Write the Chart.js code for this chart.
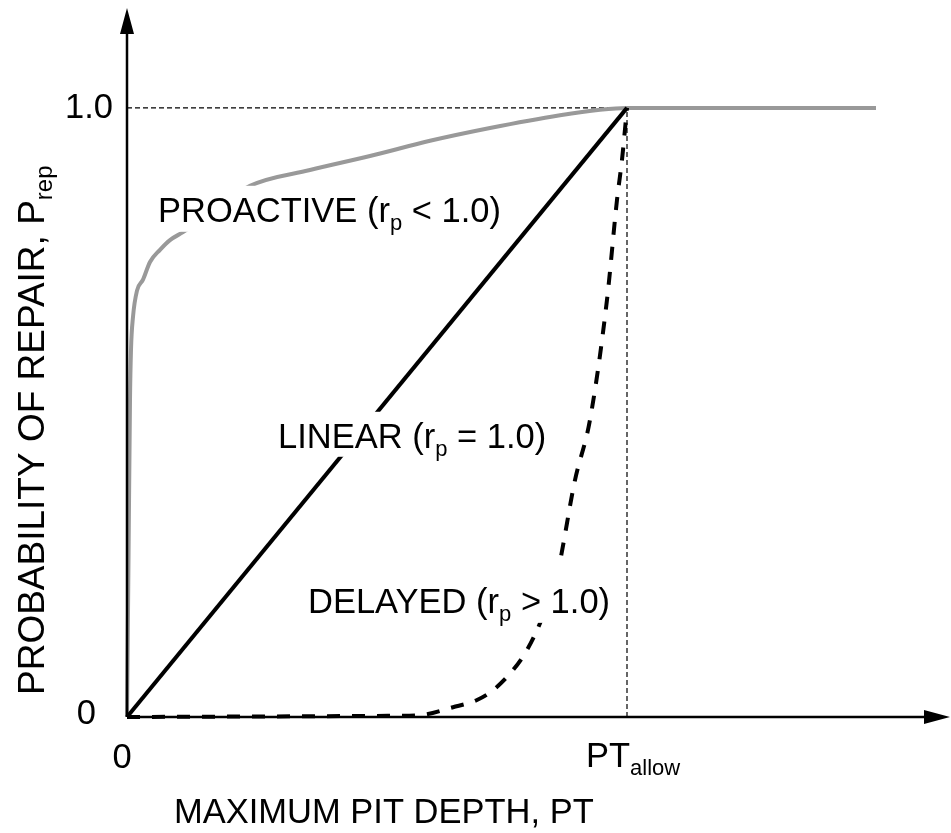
<!DOCTYPE html>
<html>
<head>
<meta charset="utf-8">
<script src="https://cdn.jsdelivr.net/npm/chart.js@4/dist/chart.umd.min.js"></script>
<style>
  html, body { margin: 0; padding: 0; background: #fff; }
  canvas { display: block; }
</style>
</head>
<body>
<canvas id="c" width="951" height="833"></canvas>
<script>
// x in units of PT_allow, y = probability of repair
const PROACTIVE_X = [0, 0.003, 0.006, 0.008, 0.012, 0.02, 0.032, 0.046, 0.066, 0.086, 0.112, 0.246, 0.366, 0.486, 0.606, 0.726, 0.866, 0.946, 1, 1.498]
const PROACTIVE_Y = [0, 0.258, 0.52, 0.603, 0.657, 0.70, 0.718, 0.747, 0.767, 0.783, 0.796, 0.872, 0.898, 0.921, 0.946, 0.967, 0.988, 0.997, 1, 1]

const LINEAR_X = [0, 1]
const LINEAR_Y = [0, 1]

const DELAYED_X = [0, 0.532, 0.586, 0.652, 0.70, 0.732, 0.772, 0.80, 0.826, 0.86, 0.896, 0.926, 0.96, 0.98, 0.99, 1]
const DELAYED_Y = [0, 0.002, 0.003, 0.016, 0.028, 0.044, 0.077, 0.11, 0.154, 0.233, 0.389, 0.488, 0.685, 0.849, 0.915, 1]

const REF_H_X = [0, 1], REF_H_Y = [1, 1]
const REF_V_X = [1, 1], REF_V_Y = [0, 1]

const X_MAX = 1.646
const Y_MAX = 1.164

const FONT = '"Liberation Sans", Arial, sans-serif'
const SIZE = 34.5, SUB = 22, SUB_DY = 8

const pts = (xs, ys) => xs.map((x, i) => ({ x, y: ys[i] }))

// Draw text made of normal and subscript parts; returns total width
function rich(ctx, parts, x, y, measureOnly, size = SIZE, sub = SUB) {
  let w = 0
  parts.forEach(p => {
    ctx.font = `${p.sub ? sub : size}px ${FONT}`
    if (!measureOnly) ctx.fillText(p.t, x + w, y + (p.sub ? SUB_DY : 0))
    w += ctx.measureText(p.t).width
  })
  return w
}

// Curve labels sit on white boxes that hide the lines behind them
const LABELS = [
  { parts: [{ t: 'PROACTIVE (r' }, { t: 'p', sub: true }, { t: ' < 1.0)' }], x: 0.062, y: 0.813, top: 36, bot: 10 },
  { parts: [{ t: 'LINEAR (r' }, { t: 'p', sub: true }, { t: ' = 1.0)' }], x: 0.302, y: 0.442, top: 36, bot: 9 },
  { parts: [{ t: 'DELAYED (r' }, { t: 'p', sub: true }, { t: ' > 1.0)' }], x: 0.362, y: 0.171, top: 50, bot: 10 }
]

const sketch = {
  id: 'sketch',
  afterDatasetsDraw(chart) {
    const { ctx, scales: { x, y } } = chart
    const px = v => x.getPixelForValue(v), py = v => y.getPixelForValue(v)
    ctx.save()
    ctx.fillStyle = '#000'
    ctx.textAlign = 'left'
    ctx.textBaseline = 'alphabetic'

    LABELS.forEach(l => {
      const lx = px(l.x), ly = py(l.y)
      const w = rich(ctx, l.parts, lx, ly, true)
      ctx.fillStyle = '#fff'
      ctx.fillRect(lx - 8, ly - l.top, w + 16, l.top + l.bot)
      ctx.fillStyle = '#000'
      rich(ctx, l.parts, lx, ly)
    })

    // axes with arrow heads
    const x0 = px(0), y0 = py(0), xEnd = px(X_MAX), yEnd = py(Y_MAX)
    ctx.strokeStyle = '#000'
    ctx.lineWidth = 2.5
    ctx.beginPath()
    ctx.moveTo(x0, y0); ctx.lineTo(xEnd - 20, y0)
    ctx.moveTo(x0, y0); ctx.lineTo(x0, yEnd + 20)
    ctx.stroke()
    ctx.beginPath()
    ctx.moveTo(xEnd, y0); ctx.lineTo(xEnd - 26, y0 - 7); ctx.lineTo(xEnd - 26, y0 + 7); ctx.closePath()
    ctx.moveTo(x0, yEnd); ctx.lineTo(x0 - 7, yEnd + 26); ctx.lineTo(x0 + 7, yEnd + 26); ctx.closePath()
    ctx.fill()

    // tick labels
    ctx.font = `${SIZE}px ${FONT}`
    ctx.textAlign = 'right'
    ctx.textBaseline = 'middle'
    ctx.fillText('1.0', x0 - 14, py(1) + 1)
    ctx.fillText('0', x0 - 31, y0 - 3)
    ctx.textAlign = 'center'
    ctx.textBaseline = 'alphabetic'
    ctx.fillText('0', x0 - 5, y0 + 51)
    ctx.textAlign = 'left'
    rich(ctx, [{ t: 'PT' }, { t: 'allow', sub: true }], px(1) - 41, y0 + 50)

    // axis titles
    rich(ctx, [{ t: 'MAXIMUM PIT DEPTH, PT' }], 174, 823)
    ctx.translate(44, 695)
    ctx.rotate(-Math.PI / 2)
    rich(ctx, [{ t: 'PROBABILITY OF REPAIR, P' }, { t: 'rep', sub: true }], 0, 0, false, 37, 24)
    ctx.restore()
  }
}

new Chart(document.getElementById('c'), {
  type: 'scatter',
  data: {
    datasets: [
      { label: 'Delayed', data: pts(DELAYED_X, DELAYED_Y), showLine: true, borderColor: '#000', borderWidth: 4,
        borderDash: [13, 12], cubicInterpolationMode: 'monotone', pointRadius: 0, order: 1 },
      { label: 'Linear', data: pts(LINEAR_X, LINEAR_Y), showLine: true, borderColor: '#000', borderWidth: 4,
        pointRadius: 0, order: 2 },
      { label: 'Proactive', data: pts(PROACTIVE_X, PROACTIVE_Y), showLine: true, borderColor: '#999999', borderWidth: 4,
        cubicInterpolationMode: 'monotone', pointRadius: 0, order: 3 },
      { label: 'ref h', data: pts(REF_H_X, REF_H_Y), showLine: true, borderColor: '#000', borderWidth: 1.2,
        borderDash: [5, 3], pointRadius: 0, order: 4 },
      { label: 'ref v', data: pts(REF_V_X, REF_V_Y), showLine: true, borderColor: '#000', borderWidth: 1.2,
        borderDash: [5, 3], pointRadius: 0, order: 4 }
    ]
  },
  options: {
    responsive: false,
    animation: false,
    clip: false,
    layout: { padding: { left: 127, right: 1, top: 8, bottom: 116 } },
    plugins: { legend: { display: false }, tooltip: { enabled: false } },
    scales: {
      x: { type: 'linear', min: 0, max: X_MAX, display: false },
      y: { type: 'linear', min: 0, max: Y_MAX, display: false }
    }
  },
  plugins: [sketch]
})
</script>
</body>
</html>
